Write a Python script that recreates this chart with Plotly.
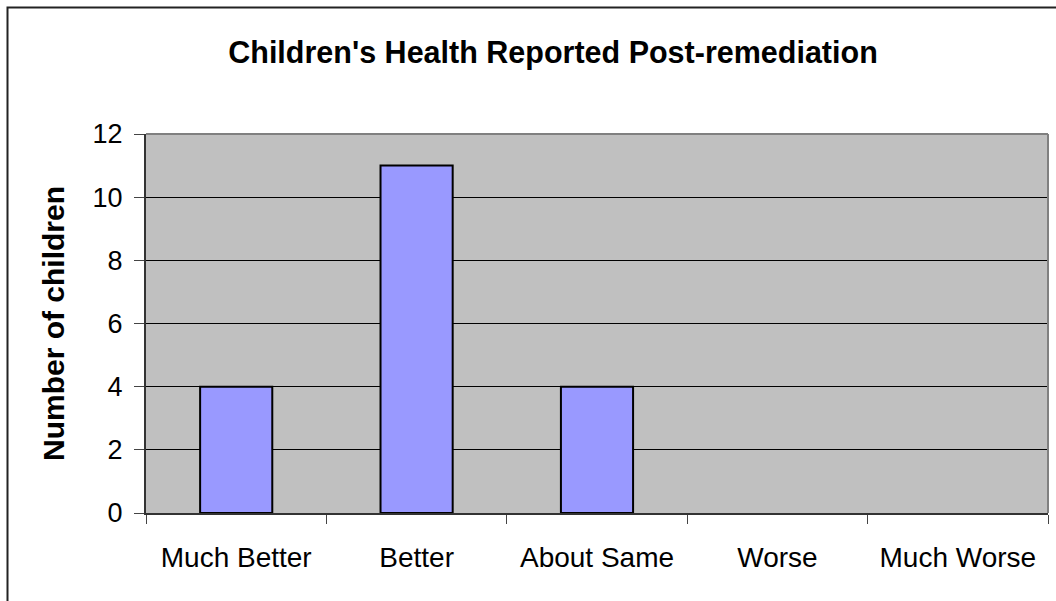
import plotly.graph_objects as go

categories = ["Much Better", "Better", "About Same", "Worse", "Much Worse"]
counts = [4, 11, 4, 0, 0]
y_ticks = [0, 2, 4, 6, 8, 10, 12]

L, R, T, B = 146, 8, 134, 88
W, H = 1056, 601
pw, ph = W - L - R, H - T - B

fig = go.Figure(go.Bar(
    x=categories, y=counts, width=0.4,
    marker=dict(color="#9999FF",
                line=dict(color="black", width=[2 if v > 0 else 0 for v in counts])),
))

fig.update_layout(
    width=W, height=H,
    margin=dict(l=L, r=R, t=T, b=B),
    paper_bgcolor="white", plot_bgcolor="#C0C0C0",
    font=dict(family="Arial, Liberation Sans, sans-serif", size=28, color="black"),
    title=dict(text="<b>Children's Health Reported Post-remediation</b>",
               x=(553 - L) / pw, xref="paper", xanchor="center",
               y=1 - 52 / H, yanchor="middle",
               font=dict(size=30.5)),
    showlegend=False,
    bargap=0.6,
)

fig.update_xaxes(
    type="category", tickson="boundaries", ticks="outside", ticklen=9,
    tickcolor="#444", showline=True, linecolor="#333", linewidth=2,
    showgrid=False, tickfont=dict(size=28), ticklabelstandoff=18,
)
fig.update_yaxes(
    range=[0, 12], tickvals=y_ticks, ticks="outside", ticklen=10,
    tickcolor="#444", showline=True, linecolor="#333", linewidth=2,
    showgrid=True, gridcolor="black", gridwidth=1, zeroline=False,
    tickfont=dict(size=27), ticklabelstandoff=6,
    title=dict(text="<b>Number of children</b>", font=dict(size=30), standoff=19),
)

# plot-area top/right gray border
fig.add_shape(type="line", xref="paper", yref="paper", x0=0, x1=1, y0=1, y1=1,
              line=dict(color="#808080", width=2))
fig.add_shape(type="line", xref="paper", yref="paper", x0=1, x1=1, y0=0, y1=1,
              line=dict(color="#808080", width=2))
# outer chart border
fig.add_shape(type="rect", xref="paper", yref="paper",
              x0=(7.5 - L) / pw, x1=(W + 20 - L) / pw,
              y0=-(B + 20) / ph, y1=(H - B - 7.5) / ph,
              line=dict(color="#222", width=2), layer="below")

fig.write_html("out.html")
